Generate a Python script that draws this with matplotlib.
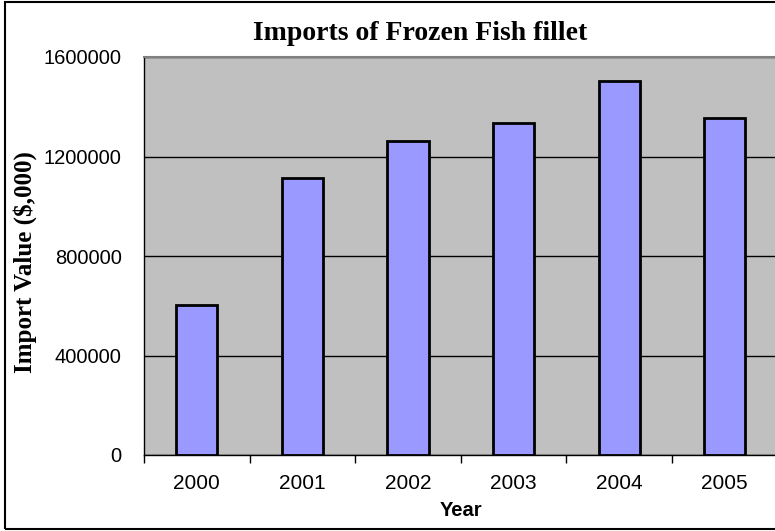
import matplotlib
matplotlib.use("Agg")
import matplotlib.pyplot as plt
from matplotlib.patches import Rectangle

years = ["2000", "2001", "2002", "2003", "2004", "2005"]
import_value = [603000, 1115000, 1262000, 1333000, 1505000, 1356000]
y_ticks = [0, 400000, 800000, 1200000, 1600000]

W, H = 775, 531
fig = plt.figure(figsize=(W / 100, H / 100), dpi=100)
fig.patch.set_facecolor("white")

# chart border (right side runs off the image)
fig.patches.append(Rectangle((5 / W, 2 / H), 1.2, (529 - 2) / H, transform=fig.transFigure,
                             fill=False, edgecolor="black", linewidth=1.5))

left, right, top, bottom = 144, 777.6, 57, 455
ax = fig.add_axes([left / W, (H - bottom) / H, (right - left) / W, (bottom - top) / H])
ax.set_facecolor("#C0C0C0")

x = list(range(len(years)))
ax.bar(x, import_value, width=0.39, color="#9999FF", edgecolor="black", linewidth=2, zorder=3)

ax.set_xlim(-0.5, len(years) - 0.5)
ax.set_ylim(0, 1600000)
ax.set_yticks(y_ticks)
ax.set_yticklabels([str(v) for v in y_ticks], fontfamily="Liberation Sans", fontsize=14.5)
# category boundaries get the tick marks, labels sit in between
ax.set_xticks([i - 0.5 for i in x])
ax.set_xticklabels([])
ax.set_xticks(x, minor=True)
ax.set_xticklabels(years, minor=True, fontfamily="Liberation Sans", fontsize=15)
ax.tick_params(axis="x", which="minor", length=0, pad=14)
ax.tick_params(axis="x", which="major", length=6, width=1, direction="out")
ax.tick_params(axis="y", length=0, pad=16)

ax.grid(axis="y", color="black", linewidth=1, zorder=1)
for side in ["top", "right"]:
    ax.spines[side].set_color("#808080")
    ax.spines[side].set_linewidth(1.5)
for side in ["left", "bottom"]:
    ax.spines[side].set_color("black")
    ax.spines[side].set_linewidth(1)

fig.text(420 / W, 1 - 33 / H, "Imports of Frozen Fish fillet", ha="center", va="center",
         fontfamily="Liberation Serif", fontweight="bold", fontsize=20)
fig.text(25 / W, 1 - 262 / H, "Import Value ($,000)", ha="center", va="center", rotation=90,
         fontfamily="Liberation Serif", fontweight="bold", fontsize=18)
fig.text(461 / W, 1 - 511 / H, "Year", ha="center", va="center",
         fontfamily="Liberation Sans", fontweight="bold", fontsize=14.5)

fig.savefig("out.png", dpi=100)
